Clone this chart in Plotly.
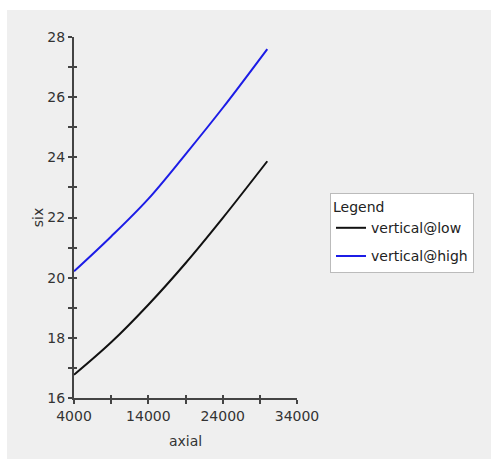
import plotly.graph_objects as go

# ---- data ----
axial = [4000, 9000, 14000, 19000, 24000, 30000]
six_low = [16.77, 17.85, 19.10, 20.48, 21.98, 23.87]
six_high = [20.21, 21.37, 22.62, 24.10, 25.64, 27.60]
series_names = ["vertical@low", "vertical@high"]
series_colors = ["#111111", "#1c1ce6"]

x_tickvals = [4000, 9000, 14000, 19000, 24000, 29000, 34000]
x_ticktext = ["4000", "", "14000", "", "24000", "", "34000"]
y_tickvals = list(range(16, 29))
y_ticktext = [str(v) if v % 2 == 0 else "" for v in y_tickvals]

W, H = 491, 459
ml, mr, mt, mb = 74, 194, 37, 61
pw, ph = W - ml - mr, H - mt - mb

fig = go.Figure()
fig.add_trace(go.Scatter(x=axial, y=six_low, mode="lines", name=series_names[0],
                         legendgroup="a",
                         line=dict(color=series_colors[0], width=2, shape="spline")))
fig.add_trace(go.Scatter(x=axial, y=six_high, mode="lines", name=series_names[1],
                         legendgroup="b",
                         line=dict(color=series_colors[1], width=2, shape="spline")))
# dummy trace to activate overlay axes (inner half of crossing ticks)
fig.add_trace(go.Scatter(x=[None], y=[None], xaxis="x2", yaxis="y2",
                         showlegend=False, hoverinfo="skip"))

font = dict(family="DejaVu Sans", size=14, color="#333333")
axis_common = dict(showgrid=False, zeroline=False, showline=True, linecolor="#444444",
                   linewidth=2, ticks="outside", ticklen=4, tickwidth=2,
                   tickcolor="#444444", tickfont=font, tickmode="array")

fig.update_layout(
    width=W, height=H,
    margin=dict(l=ml, r=mr, t=mt, b=mb),
    paper_bgcolor="white",
    plot_bgcolor="white",
    font=font,
    xaxis=dict(range=[4000, 34000], tickvals=x_tickvals, ticktext=x_ticktext,
               title=dict(text="axial", font=dict(family="DejaVu Sans", size=14, color="#333333"),
                          standoff=13),
               **axis_common),
    yaxis=dict(range=[16, 28], tickvals=y_tickvals, ticktext=y_ticktext,
               title=dict(text="six", font=dict(family="DejaVu Sans", size=14, color="#333333"),
                          standoff=0),
               **axis_common),
    xaxis2=dict(range=[4000, 34000], overlaying="x", anchor="y", side="bottom",
                showgrid=False, zeroline=False, showline=False, showticklabels=False,
                ticks="inside", ticklen=3, tickwidth=2, tickcolor="#444444",
                tickmode="array", tickvals=x_tickvals),
    yaxis2=dict(range=[16, 28], overlaying="y", anchor="x", side="left",
                showgrid=False, zeroline=False, showline=False, showticklabels=False,
                ticks="inside", ticklen=3, tickwidth=2, tickcolor="#444444",
                tickmode="array", tickvals=y_tickvals),
    legend=dict(
        x=(330 - ml) / pw, y=(H - mb - 193) / ph, xanchor="left", yanchor="top",
        bgcolor="white", bordercolor="#bbbbbb", borderwidth=1,
        font=dict(family="DejaVu Sans", size=14, color="#222222"),
        title=dict(text="Legend", font=dict(family="DejaVu Sans", size=14, color="#222222")),
        itemwidth=30, tracegroupgap=7,
    ),
    shapes=[dict(type="rect", xref="paper", yref="paper", layer="below",
                 x0=(7 - ml) / pw, x1=(W - ml) / pw,
                 y0=-(mb) / ph, y1=(H - mb - 10) / ph,
                 fillcolor="#efefef", line=dict(width=0))],
)

fig.write_html("out.html")
